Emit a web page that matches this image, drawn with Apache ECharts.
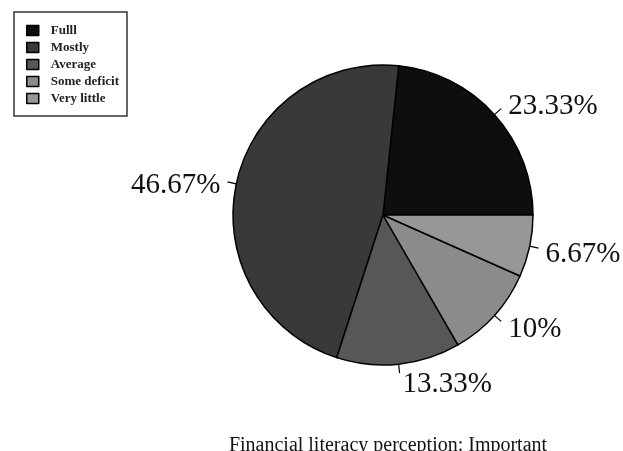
<!DOCTYPE html>
<html><head><meta charset="utf-8">
<script src="https://cdn.jsdelivr.net/npm/echarts@6/dist/echarts.min.js"></script>
<style>html,body{margin:0;padding:0;background:#fff}#c{width:623px;height:451px}</style>
</head><body><div id="c"></div>
<script>
const categories = ['Fulll', 'Mostly', 'Average', 'Some deficit', 'Very little'];
const values = [23.33, 46.67, 13.33, 10, 6.67];
const labels = ['23.33%', '46.67%', '13.33%', '10%', '6.67%'];
const colors = ['#0e0e0e', '#393939', '#575757', '#8b8b8b', '#979797'];
const title = 'Financial literacy perception: Important';

// small nudges of each label (px), styling only
const labelDx = [0, 0, -4, 0, 0];
const labelDy = [-2, 3, 11, 8, 6];

const chart = echarts.init(document.getElementById('c'));
chart.setOption({
  backgroundColor: '#fff',
  animation: false,
  title: {
    text: title, left: 383, top: 431, textAlign: 'center',
    textStyle: {fontFamily: 'Liberation Serif', fontSize: 20, fontWeight: 'normal', color: '#111'}
  },
  legend: {
    orient: 'vertical', left: 14, top: 12,
    padding: [12, 8, 11, 12],
    borderColor: '#333', borderWidth: 1.5,
    itemWidth: 12, itemHeight: 10, itemGap: 4,
    icon: 'rect',
    itemStyle: {borderColor: '#000', borderWidth: 1.5},
    textStyle: {fontFamily: 'Liberation Serif', fontSize: 13, fontWeight: 'bold', color: '#222', padding: [0, 0, 0, 7]},
    data: categories
  },
  series: [{
    type: 'pie',
    center: [383, 215],
    radius: 150,
    startAngle: 0,
    clockwise: false,
    avoidLabelOverlap: false,
    itemStyle: {borderColor: '#000', borderWidth: 1.5},
    label: {
      show: true, position: 'outside',
      formatter: p => labels[p.dataIndex],
      fontFamily: 'Liberation Serif', fontSize: 29, color: '#111',
      distanceToLabelLine: 7
    },
    labelLine: {show: true, length: 9, length2: 0, lineStyle: {color: '#000', width: 1.2}},
    labelLayout: p => ({dx: labelDx[p.dataIndex], dy: labelDy[p.dataIndex]}),
    emphasis: {disabled: true},
    data: categories.map((c, i) => ({name: c, value: values[i], itemStyle: {color: colors[i]}}))
  }]
});
</script></body></html>
